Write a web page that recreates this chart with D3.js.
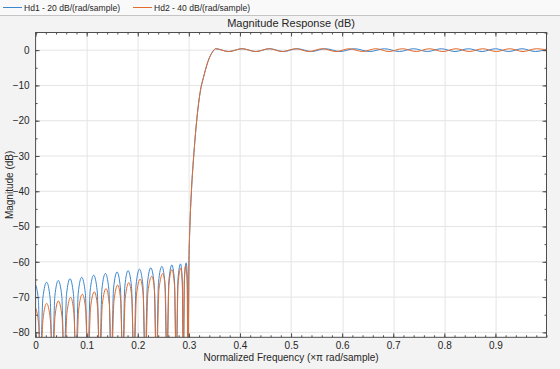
<!DOCTYPE html>
<html>
<head>
<meta charset="utf-8">
<script src="https://cdn.jsdelivr.net/npm/d3@7/dist/d3.min.js"></script>
<style>
  body { margin: 0; background: #f3f3f3; }
  svg { display: block; font-family: 'Liberation Sans', Arial, sans-serif; }
</style>
</head>
<body>
<div id="chart"></div>
<script>
var seriesNames = ['Hd1 - 20 dB/(rad/sample)', 'Hd2 - 40 dB/(rad/sample)']
var seriesColors = ['#3b87d0', '#e26b2d']

var xTicks = [0, 0.1, 0.2, 0.3, 0.4, 0.5, 0.6, 0.7, 0.8, 0.9]
var yTicks = [0, -10, -20, -30, -40, -50, -60, -70, -80]

// stopband of Hd1: [normalized freq, dB], nulls go below the axis
var hd1Stop = [
  [0, -66.5], [0.0055, -71.0], [0.0092, -90],
  [0.0142, -70.3], [0.0216, -65.8], [0.0284, -70.3], [0.0330, -90],
  [0.0376, -69.8], [0.0444, -65.3], [0.0513, -69.8], [0.0559, -90],
  [0.0605, -69.3], [0.0673, -64.8], [0.0742, -69.3], [0.0788, -90],
  [0.0834, -68.9], [0.0902, -64.4], [0.0973, -68.9], [0.1020, -90],
  [0.1067, -68.3], [0.1137, -63.8], [0.1206, -68.3], [0.1252, -90],
  [0.1298, -67.8], [0.1366, -63.3], [0.1434, -67.8], [0.1480, -90],
  [0.1526, -67.4], [0.1595, -62.9], [0.1660, -67.4], [0.1703, -90],
  [0.1746, -67.0], [0.1810, -62.5], [0.1877, -67.0], [0.1922, -90],
  [0.1966, -66.6], [0.2033, -62.1], [0.2100, -66.6], [0.2144, -90],
  [0.2188, -66.2], [0.2255, -61.7], [0.2320, -66.2], [0.2363, -90],
  [0.2406, -65.8], [0.2471, -61.3], [0.2530, -65.8], [0.2569, -90],
  [0.2608, -65.4], [0.2667, -60.9], [0.2718, -65.4], [0.2752, -90],
  [0.2786, -65.1], [0.2837, -60.6], [0.2870, -65.1], [0.2892, -90],
  [0.2914, -64.8], [0.2948, -60.3], [0.2970, -64.8], [0.2984, -90]
]

// stopband of Hd2
var hd2Stop = [
  [0, -73.1], [0.0058, -77.6], [0.0098, -90],
  [0.0145, -76.3], [0.0216, -71.8], [0.0288, -76.3], [0.0336, -90],
  [0.0379, -75.6], [0.0444, -71.1], [0.0517, -75.6], [0.0565, -90],
  [0.0613, -74.6], [0.0686, -70.1], [0.0751, -74.6], [0.0794, -90],
  [0.0842, -73.7], [0.0915, -69.2], [0.0982, -73.7], [0.1026, -90],
  [0.1076, -73.0], [0.1150, -68.5], [0.1214, -73.0], [0.1257, -90],
  [0.1306, -72.1], [0.1379, -67.6], [0.1443, -72.1], [0.1485, -90],
  [0.1534, -71.1], [0.1608, -66.6], [0.1667, -71.1], [0.1707, -90],
  [0.1754, -70.4], [0.1824, -65.9], [0.1885, -70.4], [0.1926, -90],
  [0.1974, -69.4], [0.2046, -64.9], [0.2107, -69.4], [0.2147, -90],
  [0.2198, -68.6], [0.2275, -64.1], [0.2329, -68.6], [0.2365, -90],
  [0.2415, -67.8], [0.2490, -63.3], [0.2539, -67.8], [0.2571, -90],
  [0.2609, -66.7], [0.2667, -62.2], [0.2719, -66.7], [0.2753, -90],
  [0.2789, -66.3], [0.2843, -61.8], [0.2873, -66.3], [0.2893, -90],
  [0.2910, -65.6], [0.2935, -61.1], [0.2964, -65.6], [0.2984, -90]
]

// transition band, same for both designs
var transition = [
  [0.3000, -62], [0.3020, -50], [0.3050, -40], [0.3100, -29], [0.3160, -19],
  [0.3220, -12], [0.3290, -7.5], [0.3350, -4.3], [0.3400, -2.2], [0.3450, -0.8],
  [0.3490, 0.0]
]

// passband ripple extrema
var hd1Pass = [
  [0.352, 0.4], [0.378, -0.4], [0.404, 0.4], [0.431, -0.4], [0.458, 0.4],
  [0.485, -0.4], [0.512, 0.4], [0.540, -0.4], [0.567, 0.4], [0.596, -0.4],
  [0.624, 0.4], [0.654, -0.4], [0.683, 0.4], [0.712, -0.4], [0.740, 0.4],
  [0.767, -0.4], [0.794, 0.4], [0.821, -0.4], [0.847, 0.4], [0.874, -0.4],
  [0.900, 0.4], [0.926, -0.4], [0.952, 0.4], [0.978, -0.4], [1.0, 0.3]
]
var hd2Pass = [
  [0.352, 0.4], [0.378, -0.4], [0.404, 0.4], [0.431, -0.4], [0.457, 0.4],
  [0.483, -0.4], [0.509, 0.4], [0.535, -0.4], [0.561, 0.4], [0.588, -0.4],
  [0.614, 0.4], [0.640, -0.4], [0.666, 0.4], [0.692, -0.4], [0.718, 0.4],
  [0.745, -0.4], [0.771, 0.4], [0.797, -0.4], [0.823, 0.4], [0.849, -0.4],
  [0.875, 0.4], [0.902, -0.4], [0.928, 0.4], [0.954, -0.4], [0.980, 0.4],
  [1.0, 0.1]
]

var series = [
  hd1Stop.concat(transition, hd1Pass),
  hd2Stop.concat(transition, hd2Pass)
]

var width = 560
var height = 369
var margin = { top: 32.5, left: 35.6, bottom: 31.7, right: 13.5 }
var chartWidth = width - margin.left - margin.right
var chartHeight = height - margin.top - margin.bottom

var svg = d3.select('#chart').append('svg')
  .attr('width', width)
  .attr('height', height)

svg.append('rect')
  .attr('width', width).attr('height', height)
  .attr('fill', '#f3f3f3')

// legend strip
svg.append('rect')
  .attr('width', width).attr('height', 15)
  .attr('fill', '#f9f9f9')
svg.append('line')
  .attr('x1', 0).attr('x2', width)
  .attr('y1', 15.5).attr('y2', 15.5)
  .attr('stroke', '#c4c4c4')

var legendX = [3, 133]
seriesNames.forEach(function (name, i) {
  svg.append('line')
    .attr('x1', legendX[i]).attr('x2', legendX[i] + 19)
    .attr('y1', 7.5).attr('y2', 7.5)
    .attr('stroke', seriesColors[i])
  svg.append('text')
    .attr('x', legendX[i] + 21).attr('y', 11.3)
    .attr('font-size', 9.6)
    .attr('textLength', 96)
    .attr('lengthAdjust', 'spacingAndGlyphs')
    .attr('fill', '#262626')
    .text(name)
})

var x = d3.scaleLinear().domain([0, 1]).range([0, chartWidth])
var y = d3.scaleLinear().domain([-81.4, 5]).range([chartHeight, 0])

var g = svg.append('g')
  .attr('transform', 'translate(' + margin.left + ',' + margin.top + ')')

g.append('rect')
  .attr('width', chartWidth).attr('height', chartHeight)
  .attr('fill', '#ffffff')

// grid
g.append('g').selectAll('line')
    .data(xTicks.slice(1))
  .enter().append('line')
    .attr('x1', function (d) { return Math.round(x(d)) + 0.5 })
    .attr('x2', function (d) { return Math.round(x(d)) + 0.5 })
    .attr('y1', 0).attr('y2', chartHeight)
    .attr('stroke', '#e4e4e4')
g.append('g').selectAll('line')
    .data(yTicks)
  .enter().append('line')
    .attr('x1', 0).attr('x2', chartWidth)
    .attr('y1', function (d) { return y(d) })
    .attr('y2', function (d) { return y(d) })
    .attr('stroke', '#e4e4e4')

g.append('clipPath').attr('id', 'clip')
  .append('rect').attr('width', chartWidth).attr('height', chartHeight)

var line = d3.line()
  .x(function (d) { return x(d[0]) })
  .y(function (d) { return y(d[1]) })
  .curve(d3.curveMonotoneX)

g.append('g').attr('clip-path', 'url(#clip)')
  .selectAll('path')
    .data(series)
  .enter().append('path')
    .attr('d', line)
    .attr('fill', 'none')
    .attr('stroke', function (d, i) { return seriesColors[i] })
    .attr('stroke-width', 1)

// axes, ticks pointing inward
var axisColor = '#4d4d4d'
var xMinor = d3.range(0, 1.0001, 0.02)
var yMinor = d3.range(-80, 5.0001, 5)

function styleAxis(sel) {
  sel.select('.domain').remove()
  sel.selectAll('line').attr('stroke', axisColor)
  sel.selectAll('text').attr('fill', '#262626').attr('font-size', 10)
}

g.append('g')
  .attr('transform', 'translate(0,' + chartHeight + ')')
  .call(d3.axisBottom(x).tickValues(xMinor).tickSize(-2).tickFormat(''))
  .call(styleAxis)
g.append('g')
  .attr('transform', 'translate(0,' + chartHeight + ')')
  .call(d3.axisBottom(x).tickValues(xTicks).tickSize(-4).tickPadding(5)
    .tickFormat(function (d) { return d === 0 ? '0' : d3.format('.1f')(d) }))
  .call(styleAxis)
g.append('g')
  .call(d3.axisTop(x).tickValues(xMinor).tickSize(-2).tickFormat(''))
  .call(styleAxis)
g.append('g')
  .call(d3.axisTop(x).tickValues(xTicks).tickSize(-4).tickFormat(''))
  .call(styleAxis)

g.append('g')
  .call(d3.axisLeft(y).tickValues(yMinor).tickSize(-2).tickFormat(''))
  .call(styleAxis)
g.append('g')
  .call(d3.axisLeft(y).tickValues(yTicks).tickSize(-4).tickPadding(6))
  .call(styleAxis)
g.append('g')
  .attr('transform', 'translate(' + chartWidth + ',0)')
  .call(d3.axisRight(y).tickValues(yMinor).tickSize(-2).tickFormat(''))
  .call(styleAxis)
g.append('g')
  .attr('transform', 'translate(' + chartWidth + ',0)')
  .call(d3.axisRight(y).tickValues(yTicks).tickSize(-4).tickFormat(''))
  .call(styleAxis)

// box
g.append('rect')
  .attr('x', 0).attr('y', 0)
  .attr('width', chartWidth).attr('height', chartHeight)
  .attr('fill', 'none')
  .attr('stroke', axisColor)

// title and labels
svg.append('text')
  .attr('x', margin.left + chartWidth / 2).attr('y', 27)
  .attr('text-anchor', 'middle')
  .attr('font-size', 11)
  .attr('fill', '#262626')
  .text('Magnitude Response (dB)')

svg.append('text')
  .attr('x', margin.left + chartWidth / 2).attr('y', 361)
  .attr('text-anchor', 'middle')
  .attr('font-size', 10)
  .attr('fill', '#262626')
  .text('Normalized Frequency (\u00d7\u03c0 rad/sample)')

svg.append('text')
  .attr('transform', 'translate(13,' + (margin.top + chartHeight / 2) + ') rotate(-90)')
  .attr('text-anchor', 'middle')
  .attr('font-size', 10)
  .attr('fill', '#262626')
  .text('Magnitude (dB)')
</script>
</body>
</html>
